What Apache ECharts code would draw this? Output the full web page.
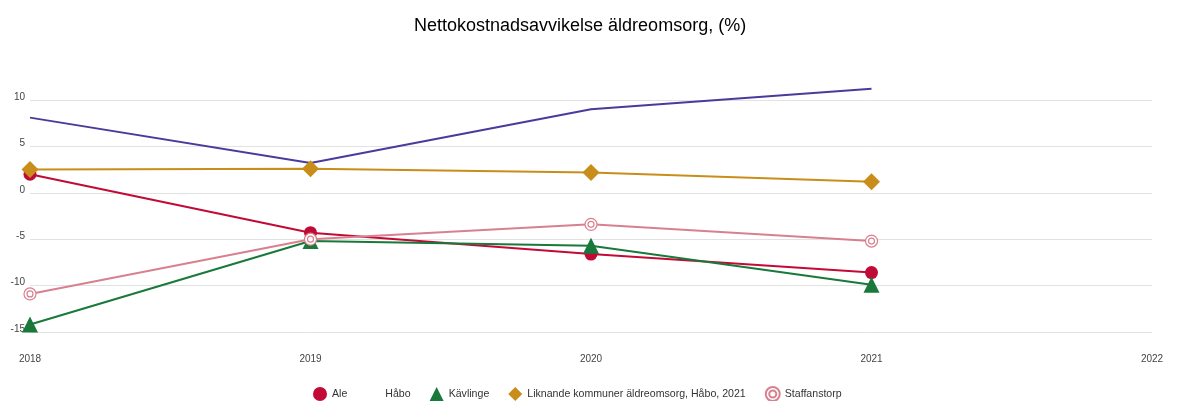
<!DOCTYPE html>
<html>
<head>
<meta charset="utf-8">
<script src="https://cdn.jsdelivr.net/npm/echarts@6/dist/echarts.min.js"></script>
<style>
  html, body { margin: 0; padding: 0; background: #fff; }
  #chart { width: 1177px; height: 401px; }
</style>
</head>
<body>
<div id="chart"></div>
<script>
const years = [2018, 2019, 2020, 2021]
const ale = [2.0, -4.3, -6.6, -8.6]
const habo = [8.1, 3.2, 9.0, 11.2]
const kavlinge = [-14.2, -5.2, -5.7, -9.9]
const liknande = [2.5, 2.6, 2.2, 1.2]
const staffanstorp = [-10.9, -5.0, -3.4, -5.2]

const doubleRing = 'path://M12,0A12,12 0 1,1 12,24A12,12 0 1,1 12,0ZM12,6A6,6 0 1,1 12,18A6,6 0 1,1 12,6Z'

const pairs = (vals) => years.map((y, i) => [y, vals[i]])

const chart = echarts.init(document.getElementById('chart'))

const options = {
  animation: false,
  title: {
    text: 'Nettokostnadsavvikelse äldreomsorg, (%)',
    left: 409,
    top: 12,
    textStyle: { fontFamily: 'Liberation Sans', fontSize: 18, fontWeight: 'normal', color: '#000' }
  },
  grid: { left: 30, right: 25, top: 100, bottom: 69 },
  legend: {
    top: 381,
    left: 308,
    itemWidth: 14,
    itemHeight: 14,
    itemGap: 19,
    textStyle: { fontFamily: 'Liberation Sans', fontSize: 10.6, color: '#333' },
    data: [
      { name: 'Ale', icon: 'circle' },
      { name: 'Håbo', icon: 'none' },
      { name: 'Kävlinge', icon: 'triangle' },
      { name: 'Liknande kommuner äldreomsorg, Håbo, 2021', icon: 'diamond' },
      { name: 'Staffanstorp', icon: doubleRing }
    ]
  },
  xAxis: {
    type: 'value',
    min: 2018,
    max: 2022,
    interval: 1,
    axisLine: { show: false },
    axisTick: { show: false },
    splitLine: { show: false },
    axisLabel: {
      margin: 22,
      fontFamily: 'Liberation Sans',
      fontSize: 10,
      color: '#444',
      formatter: (v) => String(v)
    }
  },
  yAxis: {
    type: 'value',
    min: -15,
    max: 10,
    interval: 5,
    axisLine: { show: false },
    axisTick: { show: false },
    splitLine: { lineStyle: { color: '#e2e2e2', width: 1 } },
    axisLabel: {
      margin: 5,
      fontFamily: 'Liberation Sans',
      fontSize: 10,
      lineHeight: 6,
      color: '#444',
      verticalAlign: 'bottom'
    }
  },
  series: [
    {
      name: 'Ale',
      type: 'line',
      data: pairs(ale),
      clip: false,
      symbol: 'circle',
      symbolSize: 13,
      color: '#c20a36',
      lineStyle: { width: 2 }
    },
    {
      name: 'Håbo',
      type: 'line',
      data: pairs(habo),
      clip: false,
      symbol: 'none',
      color: '#4a3a9c',
      lineStyle: { width: 2 }
    },
    {
      name: 'Kävlinge',
      type: 'line',
      data: pairs(kavlinge),
      clip: false,
      symbol: 'triangle',
      symbolSize: 16,
      color: '#18793a',
      lineStyle: { width: 2 }
    },
    {
      name: 'Liknande kommuner äldreomsorg, Håbo, 2021',
      type: 'line',
      data: pairs(liknande),
      clip: false,
      symbol: 'diamond',
      symbolSize: 17,
      color: '#c98e1a',
      lineStyle: { width: 2 }
    },
    {
      name: 'Staffanstorp',
      type: 'line',
      data: pairs(staffanstorp),
      clip: false,
      symbol: doubleRing,
      symbolSize: 12,
      color: '#d9808f',
      itemStyle: { color: '#fff', borderColor: '#d9808f', borderWidth: 1.2 },
      lineStyle: { width: 2, color: '#d9808f' }
    }
  ]
}

chart.setOption(options)
</script>
</body>
</html>
